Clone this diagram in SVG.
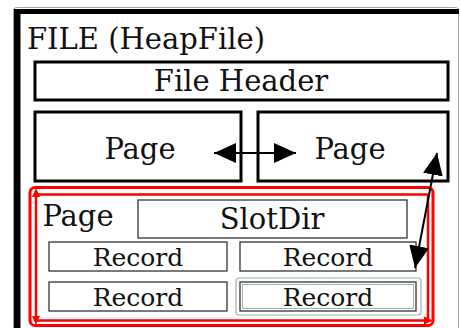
<svg xmlns="http://www.w3.org/2000/svg" width="461" height="328" viewBox="0 0 461 328">
<defs>
<marker id="ah" markerWidth="22" markerHeight="20" refX="10" refY="5" orient="auto-start-reverse" markerUnits="userSpaceOnUse" viewBox="0 0 10 10" preserveAspectRatio="none">
<path d="M0,0 L10,5 L0,10 Z" fill="#000"/>
</marker>
</defs>
<style>
text{font-family:"DejaVu Serif","Liberation Serif",serif;fill:#111;text-anchor:middle}
.box{fill:#fff;stroke:#000;stroke-width:3}
.thin{fill:#fff;stroke:#333;stroke-width:1.3}
.big{font-size:29px}
.rec{font-size:25px}
</style>
<rect width="461" height="328" fill="#fff"/>
<g id="file">
<rect x="13.5" y="7.5" width="445" height="330" rx="3" fill="#fff" stroke="#9aa5a5" stroke-width="1"/>
<rect x="14" y="9" width="445" height="5" fill="#000"/>
<rect x="14" y="9" width="6.5" height="320" fill="#000"/>
<text class="big" x="27" y="49" style="text-anchor:start">FILE (HeapFile)</text>
</g>
<g id="fileheader">
<rect class="box" x="35" y="62" width="413" height="38"/>
<text class="big" x="241" y="91">File Header</text>
</g>
<g id="page1">
<rect class="box" x="35" y="112" width="206" height="69"/>
<text class="big" x="140" y="159">Page</text>
</g>
<g id="page2">
<rect class="box" x="258" y="112" width="190" height="69"/>
<text class="big" x="350" y="159">Page</text>
</g>
<g id="page3">
<rect x="30" y="187.5" width="403" height="138" rx="5" fill="none" stroke="#f00" stroke-width="3"/>
<path d="M36,318 L36,194.5 L428,194.5 L428,320.5 L36,320.5" fill="none" stroke="#f00" stroke-width="2.5"/>
<path d="M36,188 L32,197 L40,197 Z M36,325 L32,316 L40,316 Z M433,320.5 L424,316.5 L424,324.5 Z" fill="#f00"/>
<text class="big" x="78" y="226">Page</text>
<g id="slotdir">
<rect class="thin" x="138" y="200" width="269" height="38"/>
<text class="big" x="272" y="229">SlotDir</text>
</g>
<g id="record1">
<rect class="thin" x="49" y="242" width="178" height="29"/>
<text class="rec" x="138" y="266">Record</text>
</g>
<g id="record2">
<rect class="thin" x="240" y="242" width="176" height="29"/>
<text class="rec" x="328" y="266">Record</text>
</g>
<g id="record3">
<rect class="thin" x="49" y="282" width="178" height="29"/>
<text class="rec" x="138" y="306">Record</text>
</g>
<g id="record4">
<rect x="236" y="278" width="185" height="37" rx="3" fill="#fff" stroke="#9fb3b3" stroke-width="1.2"/>
<rect x="240" y="282" width="176" height="29" fill="none" stroke="#333" stroke-width="1.3"/>
<rect x="242.5" y="284.5" width="171" height="24" fill="none" stroke="#9fb3b3" stroke-width="1"/>
<text class="rec" x="328" y="306">Record</text>
</g>
</g>
<g id="connectors" stroke="#000" stroke-width="2" fill="none">
<line x1="214" y1="153" x2="296" y2="153" marker-start="url(#ah)" marker-end="url(#ah)"/>
<line x1="437" y1="153" x2="415" y2="268" marker-start="url(#ah)" marker-end="url(#ah)"/>
</g>
</svg>
